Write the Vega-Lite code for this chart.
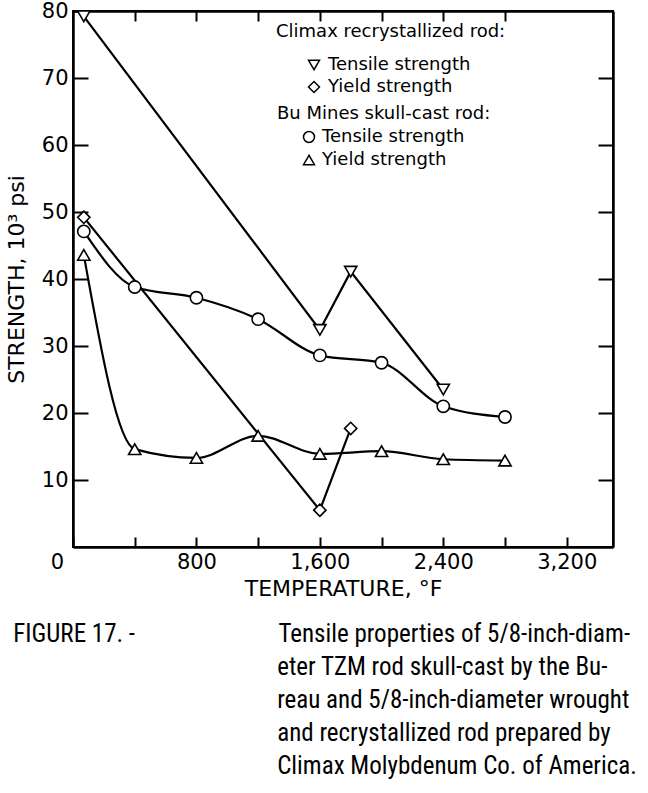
{
  "$schema": "https://vega.github.io/schema/vega-lite/v6.json",
  "width": 540,
  "height": 536,
  "padding": {"left": 5, "top": 0, "right": 5, "bottom": 5},
  "background": "white",
  "config": {
    "view": {"stroke": "black", "strokeWidth": 2},
    "font": "DejaVu Sans",
    "axis": {"grid": false, "domainColor": "black", "domainWidth": 2.5, "tickColor": "black", "tickWidth": 2, "labelColor": "black", "titleColor": "black", "labelFont": "DejaVu Sans", "titleFont": "DejaVu Sans", "titleFontWeight": "normal"},
    "legend": {"labelFont": "DejaVu Sans", "titleFont": "DejaVu Sans", "titleFontWeight": "normal", "titleColor": "black", "labelColor": "black", "titleLimit": 0, "labelLimit": 0}
  },
  "data": {
    "values": [
      {"src": "Climax", "prop": "Tensile strength", "t": 70, "s": 79.2},
      {"src": "Climax", "prop": "Tensile strength", "t": 1600, "s": 32.4},
      {"src": "Climax", "prop": "Tensile strength", "t": 1800, "s": 41.1},
      {"src": "Climax", "prop": "Tensile strength", "t": 2400, "s": 23.5},
      {"src": "Climax", "prop": "Yield strength", "t": 70, "s": 49.2},
      {"src": "Climax", "prop": "Yield strength", "t": 1600, "s": 5.5},
      {"src": "Climax", "prop": "Yield strength", "t": 1800, "s": 17.7},
      {"src": "Bu", "prop": "Tensile strength", "t": 70, "s": 47.1},
      {"src": "Bu", "prop": "Tensile strength", "t": 400, "s": 38.8},
      {"src": "Bu", "prop": "Tensile strength", "t": 800, "s": 37.2},
      {"src": "Bu", "prop": "Tensile strength", "t": 1200, "s": 34.0},
      {"src": "Bu", "prop": "Tensile strength", "t": 1600, "s": 28.6},
      {"src": "Bu", "prop": "Tensile strength", "t": 2000, "s": 27.5},
      {"src": "Bu", "prop": "Tensile strength", "t": 2400, "s": 21.0},
      {"src": "Bu", "prop": "Tensile strength", "t": 2800, "s": 19.4},
      {"src": "Bu", "prop": "Yield strength", "t": 70, "s": 43.6},
      {"src": "Bu", "prop": "Yield strength", "t": 400, "s": 14.6},
      {"src": "Bu", "prop": "Yield strength", "t": 800, "s": 13.3},
      {"src": "Bu", "prop": "Yield strength", "t": 1200, "s": 16.6},
      {"src": "Bu", "prop": "Yield strength", "t": 1600, "s": 13.9},
      {"src": "Bu", "prop": "Yield strength", "t": 2000, "s": 14.3},
      {"src": "Bu", "prop": "Yield strength", "t": 2400, "s": 13.1},
      {"src": "Bu", "prop": "Yield strength", "t": 2800, "s": 12.9}
    ]
  },
  "layer": [
    {
      "transform": [{"filter": "datum.src === 'Climax'"}],
      "mark": {"type": "line", "color": "black", "strokeWidth": 2.2},
      "encoding": {
        "x": {"field": "t", "type": "quantitative", "scale": {"domain": [0, 3200]},
          "axis": {"orient": "bottom", "values": [0, 400, 800, 1200, 1600, 2000, 2400, 2800, 3200], "tickSize": -10, "labelExpr": "datum.value % 800 === 0 ? format(datum.value, ',') : ''", "labelFontSize": 21, "labelPadding": 14, "labelFlush": false, "labelOffset": {"condition": {"test": "datum.value === 0", "value": -16}, "value": 0}, "title": "TEMPERATURE, °F", "titleFontSize": 22, "titlePadding": 6}},
        "y": {"field": "s", "type": "quantitative", "scale": {"domain": [0, 80]},
          "axis": {"orient": "left", "values": [10, 20, 30, 40, 50, 60, 70, 80], "tickSize": -15, "labelFontSize": 21, "labelPadding": 20, "title": "STRENGTH, 10³ psi", "titleFontSize": 22, "titlePadding": 13}},
        "detail": {"field": "prop"},
        "order": {"field": "t"}
      }
    },
    {
      "transform": [{"filter": "datum.src === 'Bu'"}],
      "mark": {"type": "line", "color": "black", "strokeWidth": 2.2, "interpolate": "monotone"},
      "encoding": {
        "x": {"field": "t", "type": "quantitative",
          "axis": {"orient": "top", "values": [400, 800, 1200, 1600, 2000, 2400, 2800], "tickSize": -10, "labels": false, "title": null}},
        "y": {"field": "s", "type": "quantitative",
          "axis": {"orient": "right", "values": [10, 20, 30, 40, 50, 60, 70], "tickSize": -15, "labels": false, "title": null}},
        "detail": {"field": "prop"},
        "order": {"field": "t"}
      }
    },
    {
      "transform": [{"filter": "datum.src === 'Climax'"}],
      "mark": {"type": "point", "filled": true, "fill": "white", "stroke": "black", "strokeWidth": 1.6, "size": 150, "opacity": 1},
      "encoding": {
        "x": {"field": "t", "type": "quantitative", "axis": null},
        "y": {"field": "s", "type": "quantitative", "axis": null},
        "shape": {"field": "prop", "type": "nominal",
          "scale": {"domain": ["Tensile strength", "Yield strength"], "range": ["triangle-down", "diamond"]},
          "legend": {"title": "Climax recrystallized rod:", "orient": "none", "legendX": 203, "legendY": 12, "titleFontSize": 18, "labelFontSize": 18, "symbolSize": 120, "symbolOffset": 29, "rowPadding": 4, "titlePadding": 15, "labelOffset": 5,
            "encode": {"symbols": {"update": {"fill": {"value": "white"}, "stroke": {"value": "black"}, "strokeWidth": {"value": 1.5}, "opacity": {"value": 1}}}}}}
      }
    },
    {
      "transform": [{"filter": "datum.src === 'Bu'"}],
      "mark": {"type": "point", "filled": true, "fill": "white", "stroke": "black", "strokeWidth": 1.6, "size": 150, "opacity": 1},
      "encoding": {
        "x": {"field": "t", "type": "quantitative", "axis": null},
        "y": {"field": "s", "type": "quantitative", "axis": null},
        "shape": {"field": "prop", "type": "nominal",
          "scale": {"domain": ["Tensile strength", "Yield strength"], "range": ["circle", "triangle-up"]},
          "legend": {"title": "Bu Mines skull-cast rod:", "orient": "none", "legendX": 204, "legendY": 94, "titleFontSize": 18, "labelFontSize": 18, "symbolSize": 120, "symbolOffset": 23, "rowPadding": 5, "titlePadding": 5, "labelOffset": 4,
            "encode": {"symbols": {"update": {"fill": {"value": "white"}, "stroke": {"value": "black"}, "strokeWidth": {"value": 1.5}, "opacity": {"value": 1}}}}}}
      }
    }
  ],
  "resolve": {
    "scale": {"shape": "independent"},
    "axis": {"x": "independent", "y": "independent"},
    "legend": {"shape": "independent"}
  },
  "title": {
    "text": [
      "FIGURE 17. -\u00a0\u00a0\u00a0\u00a0\u00a0\u00a0\u00a0\u00a0\u00a0\u00a0\u00a0\u00a0\u00a0\u00a0\u00a0\u00a0\u00a0\u00a0\u00a0\u00a0\u00a0\u00a0\u00a0\u00a0\u00a0Tensile properties of 5/8-inch-diam-",
      "\u200b\u00a0\u00a0\u00a0\u00a0\u00a0\u00a0\u00a0\u00a0\u00a0\u00a0\u00a0\u00a0\u00a0\u00a0\u00a0\u00a0\u00a0\u00a0\u00a0\u00a0\u00a0\u00a0\u00a0\u00a0\u00a0\u00a0\u00a0\u00a0\u00a0\u00a0\u00a0\u00a0\u00a0\u00a0\u00a0\u00a0\u00a0\u00a0\u00a0\u00a0\u00a0\u00a0\u00a0\u00a0\u00a0\u00a0eter TZM rod skull-cast by the Bu-",
      "\u200b\u00a0\u00a0\u00a0\u00a0\u00a0\u00a0\u00a0\u00a0\u00a0\u00a0\u00a0\u00a0\u00a0\u00a0\u00a0\u00a0\u00a0\u00a0\u00a0\u00a0\u00a0\u00a0\u00a0\u00a0\u00a0\u00a0\u00a0\u00a0\u00a0\u00a0\u00a0\u00a0\u00a0\u00a0\u00a0\u00a0\u00a0\u00a0\u00a0\u00a0\u00a0\u00a0\u00a0\u00a0\u00a0\u00a0reau and 5/8-inch-diameter wrought",
      "\u200b\u00a0\u00a0\u00a0\u00a0\u00a0\u00a0\u00a0\u00a0\u00a0\u00a0\u00a0\u00a0\u00a0\u00a0\u00a0\u00a0\u00a0\u00a0\u00a0\u00a0\u00a0\u00a0\u00a0\u00a0\u00a0\u00a0\u00a0\u00a0\u00a0\u00a0\u00a0\u00a0\u00a0\u00a0\u00a0\u00a0\u00a0\u00a0\u00a0\u00a0\u00a0\u00a0\u00a0\u00a0\u00a0\u00a0and recrystallized rod prepared by",
      "\u200b\u00a0\u00a0\u00a0\u00a0\u00a0\u00a0\u00a0\u00a0\u00a0\u00a0\u00a0\u00a0\u00a0\u00a0\u00a0\u00a0\u00a0\u00a0\u00a0\u00a0\u00a0\u00a0\u00a0\u00a0\u00a0\u00a0\u00a0\u00a0\u00a0\u00a0\u00a0\u00a0\u00a0\u00a0\u00a0\u00a0\u00a0\u00a0\u00a0\u00a0\u00a0\u00a0\u00a0\u00a0\u00a0\u00a0Climax Molybdenum Co. of America."
    ],
    "orient": "bottom",
    "anchor": "start",
    "frame": "bounds",
    "font": "Liberation Sans Narrow, Roboto Condensed, DejaVu Sans Condensed, Liberation Sans",
    "fontSize": 25,
    "fontWeight": "normal",
    "lineHeight": 33,
    "offset": 23,
    "dx": 8,
    "color": "black"
  }
}
